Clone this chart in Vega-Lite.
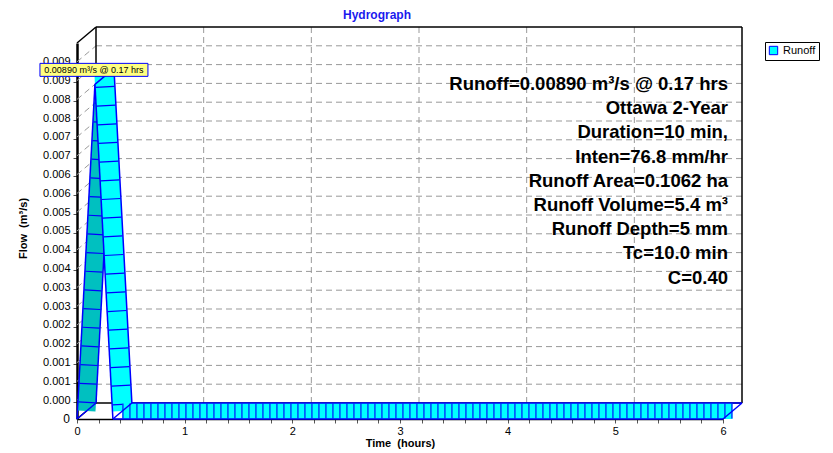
{
  "$schema": "https://vega.github.io/schema/vega-lite/v6.json",
  "width": 646,
  "height": 376,
  "autosize": {"type": "none"},
  "padding": {"left": 77, "top": 43, "right": 110, "bottom": 34},
  "background": "white",
  "config": {"view": {"stroke": null}, "font": "Liberation Sans", "axis": {"grid": false, "labelOverlap": false, "labelBound": false, "labelFlush": false}},
  "title": {"text": "Hydrograph", "fontSize": 12, "fontWeight": "bold", "color": "#1a1aee", "font": "Liberation Sans", "anchor": "middle", "dx": -23, "offset": 4},
  "data": {"values": [{}]},
  "datasets": {
    "hydro": [
      {"t": 0, "q": 0},
      {"t": 0.1667, "q": 0.0089},
      {"t": 0.3333, "q": 0},
      {"t": 6, "q": 0}
    ],
    "ygrid": [
      {"v": 0.0005}, {"v": 0.001}, {"v": 0.0015}, {"v": 0.002}, {"v": 0.0025},
      {"v": 0.003}, {"v": 0.0035}, {"v": 0.004}, {"v": 0.0045}, {"v": 0.005},
      {"v": 0.0055}, {"v": 0.006}, {"v": 0.0065}, {"v": 0.007}, {"v": 0.0075},
      {"v": 0.008}, {"v": 0.0085}, {"v": 0.009}, {"v": 0.0095}
    ],
    "xgrid": [{"v": 1}, {"v": 2}, {"v": 3}, {"v": 4}, {"v": 5}]
  },
  "layer": [
    {
      "data": {"name": "ygrid"},
      "mark": {"type": "rule", "color": "#999999", "strokeWidth": 1, "strokeDash": [6, 4], "xOffset": 19, "x2Offset": 19, "yOffset": -16},
      "encoding": {
        "x": {"datum": 0, "type": "quantitative", "scale": {"domain": [0, 6], "nice": false, "zero": false}},
        "x2": {"datum": 6},
        "y": {"field": "v", "type": "quantitative", "scale": {"domain": [0, 0.01], "nice": false, "zero": false},
          "axis": {"values": [0,0.0005,0.001,0.0015,0.002,0.0025,0.003,0.0035,0.004,0.0045,0.005,0.0055,0.006,0.0065,0.007,0.0075,0.008,0.0085,0.009],
            "tickCount": 60,
            "labelExpr": "format(datum.value + 0.0000001, '.3f')",
            "labelOverlap": false, "labelFontSize": 11, "labelColor": "black", "labelPadding": 3,
            "tickOffset": -17, "labelOffset": -2, "tickColor": "#555", "tickSize": 4,
            "domainColor": "black", "domainWidth": 2.5,
            "title": "Flow\u00a0 (m³/s)", "titleFontSize": 11, "titleFontWeight": "bold", "titleColor": "black",
            "titleX": -54, "titleY": 185, "titleBaseline": "middle", "titleAlign": "center", "titleAngle": -90}}
      }
    },
    {
      "data": {"name": "ygrid"},
      "mark": {"type": "rule", "color": "#999999", "strokeWidth": 1, "strokeDash": [6, 4], "x2Offset": 19, "y2Offset": -16},
      "encoding": {
        "x": {"datum": 0, "type": "quantitative"},
        "x2": {"datum": 0},
        "y": {"field": "v", "type": "quantitative"},
        "y2": {"field": "v"}
      }
    },
    {
      "data": {"name": "xgrid"},
      "mark": {"type": "rule", "color": "#999999", "strokeWidth": 1, "strokeDash": [6, 4], "xOffset": 19, "yOffset": -16, "y2Offset": -16},
      "encoding": {
        "x": {"field": "v", "type": "quantitative",
          "axis": {"values": [0,0.2,0.4,0.6,0.8,1,1.2,1.4,1.6,1.8,2,2.2,2.4,2.6,2.8,3,3.2,3.4,3.6,3.8,4,4.2,4.4,4.6,4.8,5,5.2,5.4,5.6,5.8,6],
            "tickCount": 60,
            "labelExpr": "abs(datum.value - round(datum.value)) < 0.001 ? format(datum.value, 'd') : ''",
            "labelOverlap": false, "labelFontSize": 11, "labelColor": "black", "labelPadding": 2,
            "tickColor": "#555", "tickSize": 4, "domainColor": "black", "domainWidth": 1.5,
            "title": "Time\u00a0 (hours)", "titleFontSize": 11, "titleFontWeight": "bold", "titleColor": "black",
            "titleY": 24, "titleBaseline": "middle"}},
        "y": {"datum": 0, "type": "quantitative"},
        "y2": {"datum": 0.01}
      }
    },
    {
      "mark": {"type": "rule", "color": "black", "strokeWidth": 1.5, "xOffset": 19, "x2Offset": 19, "yOffset": -16},
      "encoding": {"x": {"datum": 0, "type": "quantitative"}, "x2": {"datum": 6}, "y": {"datum": 0, "type": "quantitative"}}
    },
    {
      "mark": {"type": "rule", "color": "black", "strokeWidth": 1.5, "xOffset": 19, "x2Offset": 19, "yOffset": -16},
      "encoding": {"x": {"datum": 0, "type": "quantitative"}, "x2": {"datum": 6}, "y": {"datum": 0.01, "type": "quantitative"}}
    },
    {
      "mark": {"type": "rule", "color": "black", "strokeWidth": 1.5, "xOffset": 19, "yOffset": -16, "y2Offset": -16},
      "encoding": {"x": {"datum": 6, "type": "quantitative"}, "y": {"datum": 0, "type": "quantitative"}, "y2": {"datum": 0.01}}
    },
    {
      "mark": {"type": "rule", "color": "black", "strokeWidth": 1.5, "xOffset": 19, "yOffset": -16, "y2Offset": -16},
      "encoding": {"x": {"datum": 0, "type": "quantitative"}, "y": {"datum": 0, "type": "quantitative"}, "y2": {"datum": 0.01}}
    },
    {
      "mark": {"type": "rule", "color": "black", "strokeWidth": 1.5, "x2Offset": 19, "y2Offset": -16},
      "encoding": {"x": {"datum": 0, "type": "quantitative"}, "x2": {"datum": 0}, "y": {"datum": 0.01, "type": "quantitative"}, "y2": {"datum": 0.01}}
    },
    {
      "mark": {"type": "rule", "color": "black", "strokeWidth": 1.5, "x2Offset": 19, "y2Offset": -16},
      "encoding": {"x": {"datum": 0, "type": "quantitative"}, "x2": {"datum": 0}, "y": {"datum": 0, "type": "quantitative"}, "y2": {"datum": 0}}
    },

    {
      "data": {"name": "hydro"},
      "transform": [{"filter": "datum.t <= 0.17"}],
      "mark": {"type": "line", "stroke": "#00c0c0", "strokeWidth": 18, "strokeCap": "butt", "xOffset": 9.5, "yOffset": -8},
      "encoding": {"x": {"field": "t", "type": "quantitative"}, "y": {"field": "q", "type": "quantitative"}}
    },
    {
      "data": {"name": "hydro"},
      "transform": [{"filter": "datum.t <= 0.17"}],
      "mark": {"type": "line", "stroke": "#0000ff", "strokeWidth": 17, "strokeCap": "butt", "strokeDash": [1.2, 17.5], "strokeDashOffset": -8, "xOffset": 9.5, "yOffset": -8},
      "encoding": {"x": {"field": "t", "type": "quantitative"}, "y": {"field": "q", "type": "quantitative"}}
    },
    {
      "data": {"name": "hydro"},
      "transform": [{"filter": "datum.t <= 0.17"}],
      "mark": {"type": "line", "stroke": "#0000ff", "strokeWidth": 1.5},
      "encoding": {"x": {"field": "t", "type": "quantitative"}, "y": {"field": "q", "type": "quantitative"}}
    },
    {
      "data": {"name": "hydro"},
      "transform": [{"filter": "datum.t <= 0.17"}],
      "mark": {"type": "line", "stroke": "#0000ff", "strokeWidth": 1.5, "xOffset": 19, "yOffset": -16},
      "encoding": {"x": {"field": "t", "type": "quantitative"}, "y": {"field": "q", "type": "quantitative"}}
    },

    {
      "data": {"name": "hydro"},
      "transform": [{"filter": "datum.t >= 0.16 && datum.t <= 0.34"}],
      "mark": {"type": "line", "stroke": "#00ffff", "strokeWidth": 19.8, "strokeCap": "butt", "xOffset": 9.5, "yOffset": -8},
      "encoding": {"x": {"field": "t", "type": "quantitative"}, "y": {"field": "q", "type": "quantitative"}}
    },
    {
      "data": {"name": "hydro"},
      "transform": [{"filter": "datum.t >= 0.16 && datum.t <= 0.34"}],
      "mark": {"type": "line", "stroke": "#0000ff", "strokeWidth": 18.8, "strokeCap": "butt", "strokeDash": [1.2, 17.5], "strokeDashOffset": -10, "xOffset": 9.5, "yOffset": -8},
      "encoding": {"x": {"field": "t", "type": "quantitative"}, "y": {"field": "q", "type": "quantitative"}}
    },

    {
      "data": {"name": "hydro"},
      "transform": [{"filter": "datum.t >= 0.33"}],
      "mark": {"type": "line", "stroke": "#00ffff", "strokeWidth": 16, "strokeCap": "butt", "xOffset": 9.5, "yOffset": -8},
      "encoding": {"x": {"field": "t", "type": "quantitative"}, "y": {"field": "q", "type": "quantitative"}}
    },
    {
      "data": {"name": "hydro"},
      "transform": [{"filter": "datum.t >= 0.33"}],
      "mark": {"type": "line", "stroke": "#0000ff", "strokeWidth": 15, "strokeCap": "butt", "strokeDash": [1.1, 5.9], "xOffset": 9.5, "yOffset": -8},
      "encoding": {"x": {"field": "t", "type": "quantitative"}, "y": {"field": "q", "type": "quantitative"}}
    },

    {
      "data": {"name": "hydro"},
      "transform": [{"filter": "datum.t >= 0.16"}],
      "mark": {"type": "line", "stroke": "#0000ff", "strokeWidth": 1.5, "xOffset": 19, "yOffset": -16},
      "encoding": {"x": {"field": "t", "type": "quantitative"}, "y": {"field": "q", "type": "quantitative"}}
    },
    {
      "data": {"name": "hydro"},
      "transform": [{"filter": "datum.t >= 0.16 && datum.t <= 0.34"}],
      "mark": {"type": "line", "stroke": "#0000ff", "strokeWidth": 1.5},
      "encoding": {"x": {"field": "t", "type": "quantitative"}, "y": {"field": "q", "type": "quantitative"}}
    },
    {
      "data": {"name": "hydro"},
      "mark": {"type": "rule", "stroke": "#0000ff", "strokeWidth": 1.5, "x2Offset": 19, "y2Offset": -16},
      "encoding": {"x": {"field": "t", "type": "quantitative"}, "x2": {"field": "t"}, "y": {"field": "q", "type": "quantitative"}, "y2": {"field": "q"}}
    },
    {
      "data": {"name": "hydro"},
      "transform": [{"filter": "datum.t >= 0.33"}],
      "mark": {"type": "line", "stroke": "#0000ff", "strokeWidth": 1.5, "filled": true},
      "encoding": {
        "x": {"field": "t", "type": "quantitative"},
        "y": {"field": "q", "type": "quantitative"},
        "fill": {"datum": "Runoff", "type": "nominal", "scale": {"domain": ["Runoff"], "range": ["#00ffff"]},
          "legend": {"orient": "none", "legendX": 688, "legendY": -1, "title": null, "padding": 3, "strokeColor": "black", "fillColor": "white",
            "symbolType": "square", "symbolSize": 70, "symbolStrokeColor": "#0000ff", "symbolStrokeWidth": 1, "labelFontSize": 11, "labelColor": "black", "labelFont": "Liberation Sans"}}
      }
    },

    {
      "mark": {"type": "rect", "fill": "#ffff80", "stroke": "#0000ff", "strokeWidth": 1, "xOffset": -55, "x2Offset": 53, "yOffset": -21, "y2Offset": -8},
      "encoding": {"x": {"datum": 0.1667, "type": "quantitative"}, "x2": {"datum": 0.1667}, "y": {"datum": 0.0089, "type": "quantitative"}, "y2": {"datum": 0.0089}}
    },
    {
      "mark": {"type": "text", "fontSize": 9, "color": "black", "align": "center", "baseline": "middle", "dx": -1, "dy": -14.5},
      "encoding": {"x": {"datum": 0.1667, "type": "quantitative"}, "y": {"datum": 0.0089, "type": "quantitative"}, "text": {"value": "0.00890 m³/s @ 0.17 hrs"}}
    },
    {
      "mark": {"type": "text", "fontSize": 18.5, "fontWeight": "bold", "color": "black", "align": "right", "baseline": "top", "dx": 5, "dy": 32, "lineHeight": 24.2},
      "encoding": {"x": {"datum": 6, "type": "quantitative"}, "y": {"datum": 0.01, "type": "quantitative"},
        "text": {"value": ["Runoff=0.00890 m³/s @ 0.17 hrs", "Ottawa 2-Year", "Duration=10 min,", "Inten=76.8 mm/hr", "Runoff Area=0.1062 ha", "Runoff Volume=5.4 m³", "Runoff Depth=5 mm", "Tc=10.0 min", "C=0.40"]}}
    },
    {
      "mark": {"type": "text", "fontSize": 12, "color": "black", "align": "right", "baseline": "middle", "dx": -7},
      "encoding": {"x": {"datum": 0, "type": "quantitative"}, "y": {"datum": 0, "type": "quantitative"}, "text": {"value": "0"}}
    }
  ]
}
